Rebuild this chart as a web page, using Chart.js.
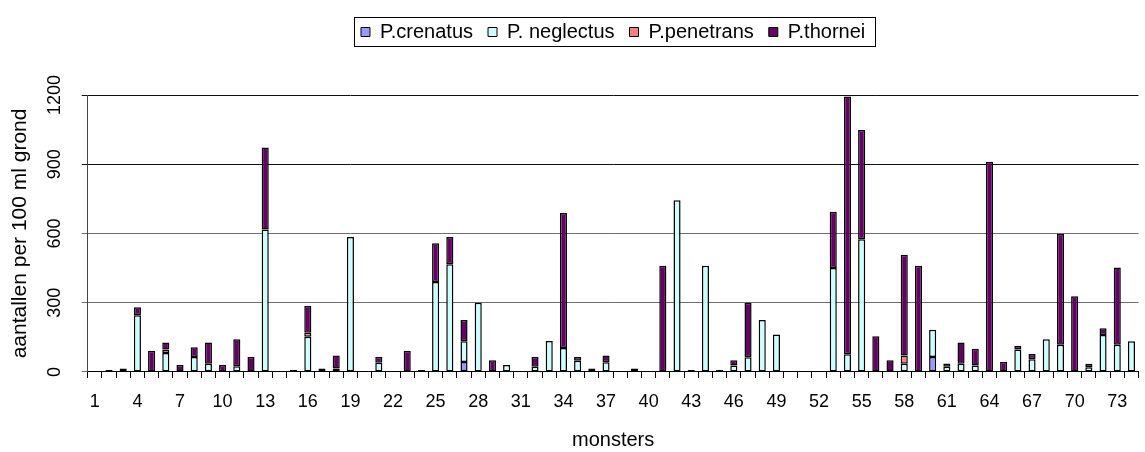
<!DOCTYPE html>
<html>
<head>
<meta charset="utf-8">
<script src="https://cdn.jsdelivr.net/npm/chart.js@4.4.1/dist/chart.umd.min.js"></script>
<style>
  body { margin: 0; background: #fff; }
  canvas { display: block; }
</style>
</head>
<body>
<canvas id="monstersChart" width="1145" height="452"></canvas>
<script>
// sample numbers on the x axis
const monsters = ['1','2','3','4','5','6','7','8','9','10','11','12','13','14','15','16','17','18','19','20',
    '21','22','23','24','25','26','27','28','29','30','31','32','33','34','35','36','37','38','39','40',
    '41','42','43','44','45','46','47','48','49','50','51','52','53','54','55','56','57','58','59','60',
    '61','62','63','64','65','66','67','68','69','70','71','72','73','74'];

// counts per 100 ml soil, one value per sample
const crenatus = [0,0,0,0,0,0,0,0,0,0, 0,0,0,0,0,0,0,0,0,0, 0,0,0,0,0,0,43,0,0,0, 0,0,0,0,0,0,0,0,0,0,
    0,0,0,0,0,0,0,0,0,0, 0,0,0,0,0,0,0,0,0,65, 0,0,0,0,0,0,0,0,0,0, 0,0,0,0];
const neglectus = [0,0,15,245,0,82,0,65,35,0, 25,0,617,0,0,152,0,15,585,0, 40,0,0,0,390,466,90,300,0,30,
    0,22,134,104,48,0,42,0,15,0, 0,744,0,460,0,28,63,225,162,0, 0,0,450,77,575,0,0,35,0,118,
    22,35,28,0,0,97,55,141,118,0, 20,160,118,133];
const penetrans = [0,0,0,0,0,15,0,0,0,0, 0,0,0,0,0,18,0,0,0,0, 0,0,0,0,0,0,0,0,0,0, 0,0,0,0,0,0,0,0,0,0,
    0,0,0,0,0,0,0,0,0,0, 0,0,0,0,0,0,0,36,0,0, 0,0,0,0,0,0,0,0,0,0, 0,0,0,0];
const thornei = [0,8,0,35,92,30,30,42,92,30, 117,65,356,0,8,116,15,56,0,0, 25,0,92,8,167,119,92,0,50,0,
    0,43,0,585,17,15,29,0,0,0, 460,0,8,0,8,22,237,0,0,0, 0,0,244,1117,473,155,50,437,460,0,
    14,92,72,911,43,16,23,0,480,328, 15,29,334,0];

const yTicks = [0, 300, 600, 900, 1200];

const fontFamily = '"Liberation Sans", Arial, sans-serif';

// extra room between legend and plot
const legendSpacer = {
    id: 'legendSpacer',
    beforeInit(chart) {
        const originalFit = chart.legend.fit;
        chart.legend.fit = function () {
            originalFit.call(this);
            this.height += 43;
        };
    }
};

// frame around the legend items
const legendFrame = {
    id: 'legendFrame',
    afterDraw(chart) {
        const boxes = chart.legend.legendHitBoxes;
        if (!boxes || !boxes.length) return;
        const left = Math.min(...boxes.map(b => b.left)) - 7;
        const right = Math.max(...boxes.map(b => b.left + b.width)) + 10;
        const top = boxes[0].top - 5;
        const bottom = boxes[0].top + boxes[0].height + 4;
        const c = chart.ctx;
        c.save();
        c.strokeStyle = '#000';
        c.lineWidth = 1;
        c.strokeRect(Math.round(left) + 0.5, Math.round(top) + 0.5, Math.round(right - left), Math.round(bottom - top));
        c.restore();
    }
};

const ctx = document.getElementById('monstersChart').getContext('2d');

// zero segments get no outline, otherwise they leave a mark on the axis
const datasetStyle = {
    borderColor: '#000',
    borderWidth: c => (c.raw ? 1.5 : 0),
    borderSkipped: false,
    categoryPercentage: 1.0,
    barPercentage: 0.5
};

const monstersChart = new Chart(ctx, {
    type: 'bar',
    data: {
        labels: monsters,
        datasets: [
            { label: 'P.crenatus', data: crenatus, backgroundColor: '#9999FF', ...datasetStyle },
            { label: 'P. neglectus', data: neglectus, backgroundColor: '#CCFFFF', ...datasetStyle },
            { label: 'P.penetrans', data: penetrans, backgroundColor: '#FF8080', ...datasetStyle },
            { label: 'P.thornei', data: thornei, backgroundColor: '#660066', ...datasetStyle }
        ]
    },
    options: {
        responsive: false,
        animation: false,
        layout: {
            padding: { top: 7, right: 6, bottom: 0, left: 0 }
        },
        plugins: {
            tooltip: { enabled: false },
            legend: {
                position: 'top',
                fullSize: false,
                labels: {
                    boxWidth: 9,
                    boxHeight: 9,
                    padding: 15,
                    color: '#000',
                    font: { family: fontFamily, size: 20 },
                    generateLabels: chart => Chart.defaults.plugins.legend.labels.generateLabels(chart)
                        .map(item => ({ ...item, lineWidth: 1 }))
                }
            }
        },
        scales: {
            x: {
                stacked: true,
                grid: {
                    offset: true,
                    drawOnChartArea: false,
                    drawTicks: true,
                    tickLength: 6,
                    color: '#000'
                },
                border: { color: '#000', width: 1 },
                ticks: {
                    autoSkip: false,
                    maxRotation: 0,
                    minRotation: 0,
                    padding: 13.5,
                    color: '#000',
                    font: { family: fontFamily, size: 18 },
                    callback: function (value, index) {
                        return index % 3 === 0 ? this.getLabelForValue(value) : '';
                    }
                },
                title: {
                    display: true,
                    text: 'monsters',
                    color: '#000',
                    font: { family: fontFamily, size: 20 },
                    padding: { top: 1.5, bottom: 0 }
                }
            },
            y: {
                stacked: true,
                min: 0,
                max: 1200,
                afterBuildTicks: scale => {
                    scale.ticks = yTicks.map(v => ({ value: v }));
                },
                grid: {
                    drawTicks: true,
                    tickLength: 6,
                    color: c => (c.tick && c.tick.value >= 900 ? '#111' : '#6e6e6e')
                },
                border: { color: '#444', width: 1 },
                ticks: {
                    minRotation: 90,
                    maxRotation: 90,
                    crossAlign: 'center',
                    padding: 6.2,
                    color: '#000',
                    font: { family: fontFamily, size: 18 },
                    callback: value => String(value)
                },
                title: {
                    display: true,
                    text: 'aantallen per 100 ml grond',
                    color: '#000',
                    font: { family: fontFamily, size: 21 },
                    padding: { top: 8, bottom: 14.5 }
                }
            }
        }
    },
    plugins: [legendSpacer, legendFrame]
});
</script>
</body>
</html>
